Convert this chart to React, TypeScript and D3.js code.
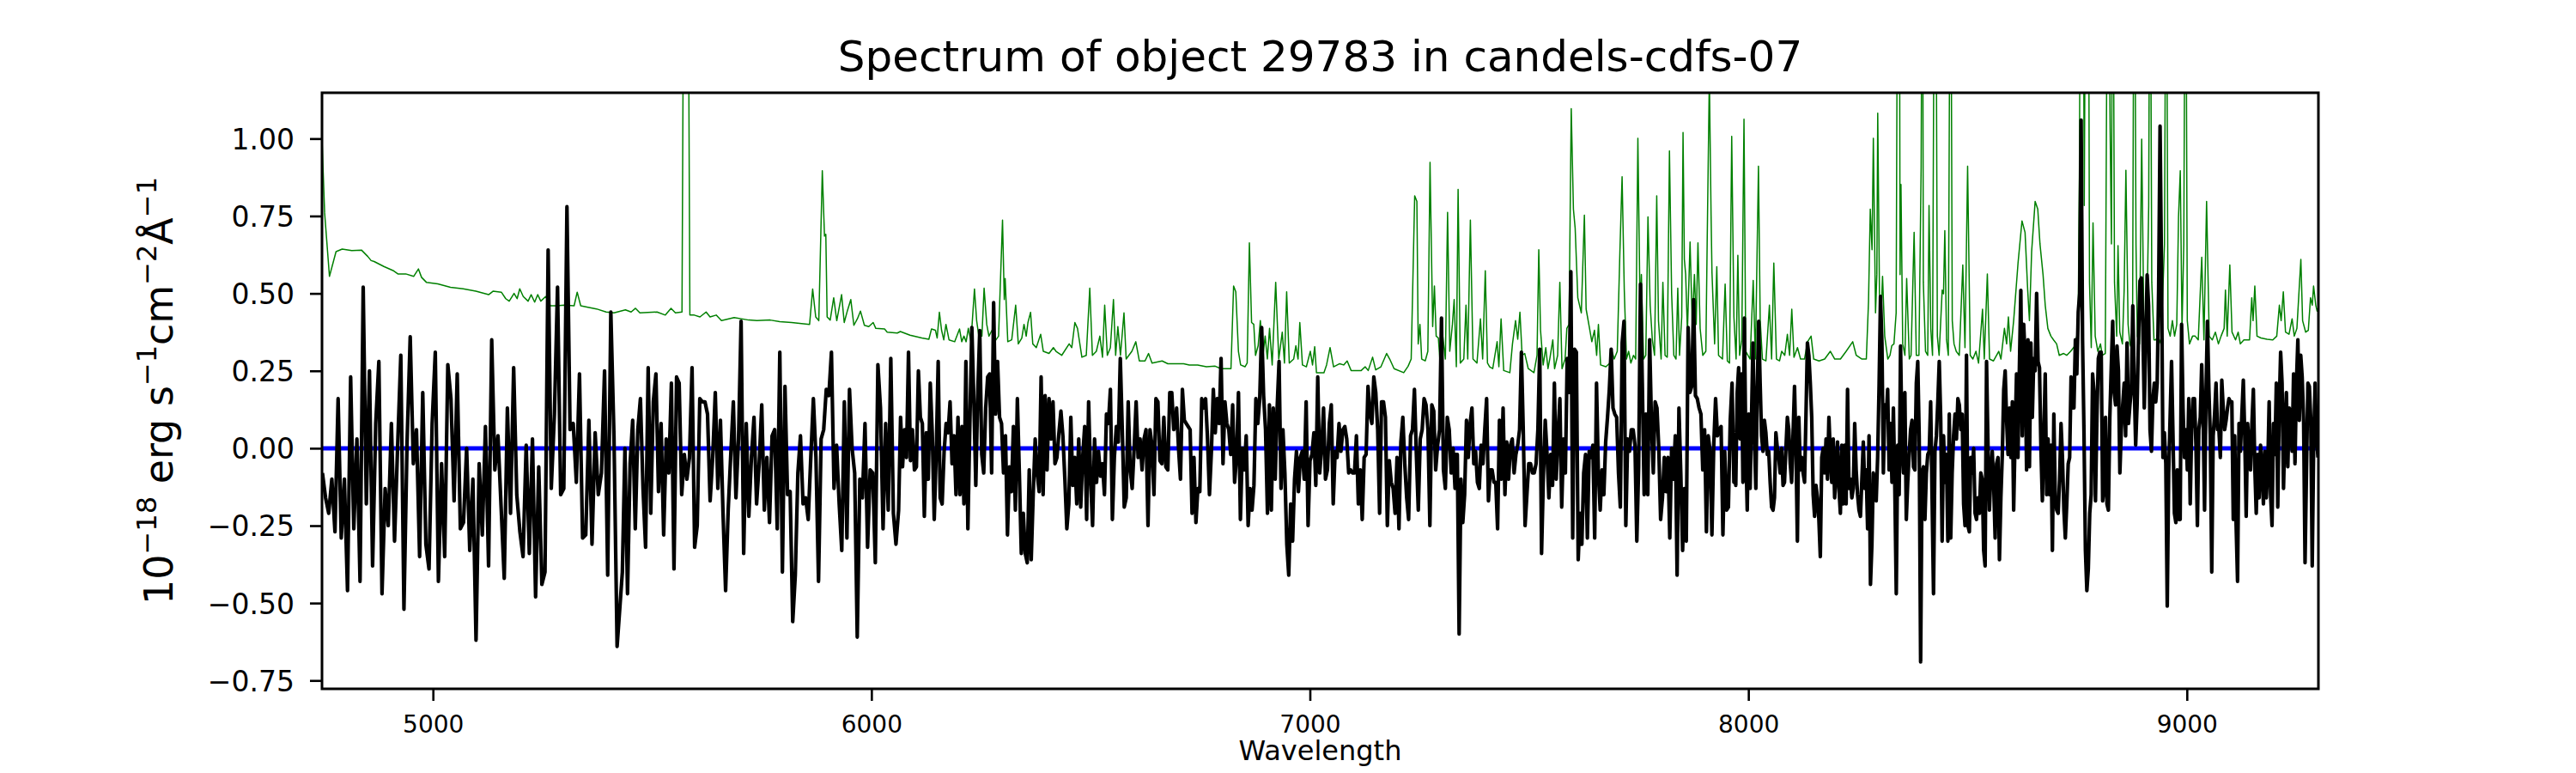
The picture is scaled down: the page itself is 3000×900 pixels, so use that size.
import React, { useEffect, useRef } from 'react';
import * as d3 from 'd3';

const title = 'Spectrum of object 29783 in candels-cdfs-07';
const xLabel = 'Wavelength';
const xTicks = [5000, 6000, 7000, 8000, 9000];
const yTicks = [-0.75, -0.5, -0.25, 0, 0.25, 0.5, 0.75, 1.0];
const xDomain = [4747, 9300];
const yDomain = [-0.777, 1.148];

// object flux, each piece evenly sampled between its edge wavelengths
const fluxEdges = [
  [4748, 5420], [5432, 6056], [6062, 6694], [6696, 7331],
  [7332, 7967], [7968, 8602], [8605, 9299],
];
const flux1 = [
  -0.08, -0.16, -0.21, -0.10, -0.27, 0.16, -0.29, -0.10, -0.46, 0.23,
  -0.26, 0.03, -0.43, 0.52, -0.18, 0.25, -0.38, 0.08, 0.28, -0.47,
  -0.13, -0.25, 0.08, -0.30, 0.01, 0.30, -0.52, 0.02, 0.36, -0.05,
  0.06, -0.35, 0.18, -0.31, -0.39, 0.08, 0.31, -0.43, -0.05, -0.35,
  0.27, 0.16, -0.17, 0.24, -0.26, -0.24, 0.00, -0.33, -0.10, -0.62,
  -0.05, -0.28, 0.07, -0.38, 0.35, -0.07, 0.04, -0.19, -0.42, 0.13,
  -0.21, 0.26, -0.15, -0.27, -0.35, 0.01, -0.34, 0.03, -0.48, -0.06,
  -0.44, -0.40, 0.64, -0.13, 0.11, 0.52, -0.15, -0.13, 0.78, 0.06,
  0.08, -0.11, 0.24, -0.29, -0.28, 0.09, -0.31, 0.05, -0.15, -0.08,
  0.25, -0.41, 0.44, 0.04, -0.64,
];
const flux2 = [
  -0.40, 0.00, -0.47, -0.05, 0.09, -0.26, 0.06, 0.16, -0.13, -0.32,
  0.26, -0.21, 0.15, 0.24, -0.14, 0.08, -0.28, 0.03, -0.08, 0.21,
  -0.39, 0.23, 0.21, -0.15, -0.02, -0.10, -0.03, 0.26, -0.32, -0.25,
  0.16, 0.15, 0.15, 0.11, -0.17, -0.03, 0.18, -0.13, 0.09, -0.21,
  -0.46, -0.20, -0.02, 0.15, -0.16, 0.03, 0.41, -0.34, 0.08, -0.22,
  -0.03, 0.10, -0.18, -0.05, 0.14, -0.20, -0.03, -0.24, 0.04, 0.06,
  -0.26, 0.31, -0.40, 0.20, -0.15, -0.14, -0.56, -0.41, -0.08, 0.04,
  -0.18, -0.16, -0.23, -0.03, 0.16, -0.03, -0.43, 0.03, 0.06, 0.19,
  0.17, 0.31, -0.13, 0.01, -0.18, -0.33, 0.15, -0.29, 0.19, 0.00,
  -0.08, -0.61, -0.10, -0.16, 0.08, -0.32, -0.07, -0.08, -0.37, 0.27,
  0.13, -0.26, 0.08, -0.20, 0.29, -0.21, -0.31,
];
const flux3 = [
  -0.20, 0.10, -0.06, 0.06, -0.03, 0.31, -0.04, 0.06, -0.07, -0.06,
  0.25, 0.10, 0.08, -0.22, 0.05, -0.10, 0.21, 0.05, -0.23, -0.02,
  0.28, -0.16, -0.18, -0.01, 0.08, 0.05, 0.15, -0.05, 0.04, -0.15,
  0.10, -0.15, 0.07, -0.18, 0.28, -0.26, 0.08, 0.39, 0.16, -0.12,
  0.18, 0.38, -0.02, -0.08, 0.13, 0.23, 0.24, -0.08, 0.47, 0.11,
  0.28, 0.10, 0.08, -0.08, 0.04, -0.28, -0.06, -0.14, 0.07, -0.20,
  0.16, -0.08, -0.34, -0.21, -0.34, -0.37, -0.07, -0.36, -0.15, 0.03,
  -0.08, -0.14, 0.23, -0.15, 0.17, -0.07, 0.16, 0.03, 0.15, -0.05,
  -0.03, 0.05, 0.12, 0.04, -0.10, -0.26, -0.18, 0.10, -0.12, -0.03,
  -0.18, 0.03, -0.19, -0.03, 0.07, -0.23, 0.15, -0.10, -0.25, 0.03,
  -0.11, -0.01, -0.09, -0.05, -0.15, 0.11, 0.08, 0.19, -0.23, -0.03,
  0.07, 0.02, 0.29, 0.06, -0.19, -0.16, 0.15, -0.07, -0.13, 0.00,
  0.15, -0.03, 0.03, -0.07, 0.03, 0.06, -0.25, 0.06, 0.01, -0.15,
  0.16, 0.15, -0.04, -0.05, 0.10, -0.06, -0.07, 0.18, 0.18, 0.06,
  0.08,
];
const flux4 = [
  0.13, 0.00, -0.10, 0.19, 0.09, 0.08, 0.07, 0.06, -0.21, -0.03,
  -0.24, -0.13, -0.14, 0.16, 0.13, 0.16, 0.03, -0.15, -0.01, 0.19,
  0.05, 0.16, 0.08, 0.29, -0.05, 0.15, 0.08, 0.06, -0.02, 0.14,
  -0.11, -0.03, 0.18, -0.23, 0.00, -0.07, 0.04, -0.25, -0.13, -0.20,
  -0.12, 0.16, 0.08, 0.16, 0.39, 0.17, 0.06, -0.21, 0.14, -0.20,
  0.13, -0.10, 0.13, 0.28, -0.13, 0.06, -0.08, -0.31, -0.41, -0.18,
  -0.30, -0.10, -0.01, -0.14, -0.03, -0.01, -0.10, 0.15, -0.25, -0.04,
  -0.02, 0.05, -0.12, 0.23, -0.08, 0.00, 0.13, -0.10, -0.07, 0.08,
  0.14, -0.18, -0.01, -0.03, 0.08, -0.01, 0.06, 0.07, 0.03, -0.08,
  -0.07, -0.08, -0.08, 0.04, -0.18, -0.07, -0.23, -0.03, -0.02, 0.20,
  0.11, 0.08, 0.23, 0.18, 0.06, -0.21, 0.15, 0.15, 0.10, -0.25,
  -0.04, -0.11, -0.13, -0.21, -0.03, -0.26, 0.02, 0.10, -0.05, -0.16,
  -0.23, 0.04, 0.06, 0.19, -0.02, -0.20, 0.03, 0.06, 0.16, 0.14,
  0.06, -0.25, 0.14, 0.12, -0.07, 0.01, 0.06, 0.42, -0.07, -0.13,
  0.10, 0.06, -0.08, 0.00, -0.13,
];
const flux5 = [
  -0.02, -0.02, -0.60, -0.10, -0.24, -0.15, 0.09, -0.03, 0.08, 0.13,
  -0.05, -0.01, -0.11, -0.13, 0.01, -0.05, 0.06, 0.16, -0.17, -0.07,
  -0.07, -0.11, -0.11, -0.26, 0.09, -0.10, 0.13, -0.15, 0.02, -0.10,
  0.01, 0.03, -0.08, -0.02, 0.01, 0.06, 0.31, 0.06, -0.25, -0.15,
  -0.05, -0.05, -0.08, -0.08, -0.05, 0.06, 0.32, -0.34, -0.09, 0.09,
  -0.02, -0.16, -0.02, -0.12, 0.21, -0.10, 0.04, 0.16, -0.19, 0.03,
  -0.08, 0.29, 0.18, 0.57, -0.29, 0.32, 0.31, -0.36, -0.21, -0.31,
  -0.08, -0.02, -0.29, -0.01, -0.03, 0.01, -0.29, 0.21, -0.08, -0.20,
  -0.07, -0.15, 0.02, 0.10, 0.19, 0.32, 0.13, 0.11, 0.10, -0.08,
  -0.19, 0.34, 0.41, -0.25, 0.03, -0.01, 0.06, 0.06, 0.01, -0.30,
  -0.06, 0.53, 0.21, -0.15, 0.11, -0.15, 0.35, 0.08, -0.08, 0.15,
  0.13, 0.00, -0.23, -0.16, -0.03, -0.14, -0.03, -0.29, 0.00, -0.10,
  0.04, -0.41, 0.13, -0.08, -0.33, -0.13, -0.30, 0.39, 0.18, 0.20,
  0.48, 0.17, 0.16, 0.13, 0.11, -0.07, 0.06, -0.27, 0.04, -0.01,
  -0.28, 0.01, 0.16, 0.04, 0.06, 0.07, -0.28, -0.01, -0.20, -0.19,
  0.09, 0.21, -0.11,
];
const flux6 = [
  0.03, -0.12, 0.18, 0.26, 0.03, 0.24, -0.11, 0.42, 0.00, -0.20,
  0.11, -0.13, 0.10, 0.34, 0.04, -0.13, 0.20, 0.41, 0.21, 0.04,
  -0.01, 0.09, 0.05, -0.02, -0.01, -0.11, -0.19, -0.20, -0.16, 0.05,
  0.00, -0.03, -0.08, 0.00, -0.12, -0.11, 0.00, 0.10, 0.06, -0.05,
  -0.11, 0.05, 0.20, 0.00, -0.30, 0.10, -0.07, -0.03, -0.08, -0.11,
  0.11, 0.34, 0.30, 0.21, 0.10, -0.15, -0.22, -0.12, -0.16, -0.23,
  -0.35, -0.03, 0.00, -0.08, 0.03, -0.10, 0.10, -0.02, -0.11, 0.03,
  -0.16, -0.08, 0.02, -0.13, -0.21, 0.01, -0.18, 0.01, -0.18, 0.19,
  -0.13, -0.10, -0.16, -0.13, 0.08, -0.07, -0.15, -0.20, -0.22, -0.10,
  0.02, -0.13, -0.07, -0.26, 0.04, -0.44, -0.31, -0.08, -0.11, -0.17,
  -0.03, 0.20, 0.49, 0.34, -0.08, 0.14, 0.10, 0.19, -0.07, 0.08,
  -0.11, 0.13, -0.13, -0.47, 0.01, -0.15, 0.33, 0.01, -0.08, 0.18,
  -0.23, -0.11, -0.02, 0.06, 0.09, -0.06, -0.07, 0.21, 0.28, 0.04,
  -0.69, -0.08, -0.06, -0.23, -0.08, -0.02, -0.01, 0.15, -0.16, -0.47,
  -0.01, 0.04, 0.15, 0.28, 0.10, -0.30, 0.04, -0.11, -0.02, -0.30,
  0.11, -0.29, -0.08, 0.04, 0.11, 0.03, 0.16, 0.14, 0.06, 0.11,
  -0.18, -0.25, 0.30, -0.25, -0.27, -0.03, -0.08, 0.00, -0.21, -0.23,
  -0.16, -0.21, -0.08, -0.10, -0.33, -0.38, 0.28, 0.01, -0.20, -0.08,
  -0.01, -0.12, -0.29, -0.05, -0.03, -0.36, -0.16, -0.02, 0.19, 0.25,
  0.09, -0.02, 0.13, -0.03, 0.15,
];
const flux7 = [
  -0.20, 0.04, 0.24, -0.03, 0.26, 0.51, 0.04, 0.40, 0.29, -0.07,
  0.35, -0.06, 0.34, 0.10, 0.29, 0.25, 0.50, 0.28, 0.26, 0.00,
  -0.17, 0.04, 0.24, -0.15, 0.03, -0.15, 0.01, -0.33, 0.11, -0.16,
  -0.20, -0.21, -0.10, 0.08, -0.03, -0.20, -0.29, -0.18, -0.05, -0.03,
  0.23, 0.13, 0.13, 0.35, 0.24, 0.44, 0.50, 1.06, 0.35, 0.05,
  -0.33, -0.46, -0.39, -0.21, -0.15, 0.24, 0.18, -0.17, 0.10, 0.29,
  0.31, 0.31, -0.17, -0.13, 0.10, -0.18, -0.20, 0.10, 0.26, 0.41,
  0.18, 0.14, 0.33, 0.25, -0.08, 0.06, 0.14, 0.21, 0.04, 0.34,
  0.08, 0.14, 0.19, 0.46, 0.21, 0.01, 0.14, 0.36, 0.54, 0.55,
  0.39, 0.13, 0.34, 0.56, 0.46, 0.06, -0.01, 0.16, 0.21, 0.15,
  0.21, 0.51, 1.04, 0.57, -0.03, 0.05, -0.05, -0.51, -0.08, 0.10,
  0.28, 0.04, -0.21, -0.24, -0.07, -0.23, -0.23, 0.40, 0.13, -0.03,
  0.06, -0.07, 0.16, -0.18, 0.06, 0.16, 0.16, 0.01, -0.25, 0.06,
  0.10, 0.27, 0.10, -0.20, 0.18, 0.41, 0.19, 0.04, -0.40, 0.04,
  0.11, 0.21, 0.06, 0.06, -0.03, 0.22, 0.13, 0.06, 0.09, 0.13,
  0.16, 0.15, 0.15, -0.23, 0.04, -0.25, -0.43, 0.08, -0.01, 0.11,
  0.22, 0.04, -0.22, 0.08, 0.01, -0.07, 0.08, 0.19, -0.06, -0.21,
  -0.02, -0.16, 0.01, -0.06, -0.18, -0.01, -0.16, -0.07, 0.15, -0.15,
  -0.25, 0.08, -0.02, 0.21, -0.19, 0.13, 0.31, 0.21, -0.13, 0.06,
  0.18, -0.06, 0.13, 0.09, -0.01, 0.24, -0.05, 0.21, 0.35, 0.09,
  0.30, 0.23, 0.09, -0.37, -0.07, 0.21, 0.20, 0.09, -0.38, 0.01,
  0.21, 0.04, -0.03,
];
const fluxPieces = [flux1, flux2, flux3, flux4, flux5, flux6, flux7];

// noise spectrum: [wavelength, value]; spikes above the frame are clipped
const sigma1 = [
  [4747, 1.0], [4753, 0.76], [4764, 0.555], [4770, 0.587], [4779, 0.635], [4793, 0.643],
  [4815, 0.638], [4837, 0.64], [4851, 0.62], [4859, 0.606], [4866, 0.603], [4888, 0.587],
  [4909, 0.574], [4920, 0.563], [4938, 0.563], [4956, 0.555], [4967, 0.579], [4974, 0.552],
  [4985, 0.536], [5011, 0.531], [5040, 0.52], [5069, 0.515], [5098, 0.507], [5127, 0.496],
  [5137, 0.507], [5156, 0.504], [5166, 0.483], [5174, 0.475], [5185, 0.5], [5192, 0.483],
  [5198, 0.515], [5206, 0.49], [5217, 0.475], [5224, 0.496], [5232, 0.472], [5239, 0.496],
  [5246, 0.475], [5257, 0.49], [5268, 0.46], [5282, 0.46], [5300, 0.462], [5322, 0.46],
  [5329, 0.504], [5337, 0.46], [5351, 0.456], [5373, 0.45], [5395, 0.44], [5413, 0.437],
];
const sigma2 = [
  [5439, 0.447], [5452, 0.44], [5462, 0.452], [5472, 0.437], [5511, 0.44], [5530, 0.43],
  [5543, 0.452], [5553, 0.437], [5568, 0.44], [5573, 2.0], [5581, 2.0], [5586, 0.43],
  [5596, 0.43], [5609, 0.424], [5623, 0.44], [5632, 0.424], [5646, 0.43], [5658, 0.412],
  [5687, 0.422], [5720, 0.414], [5739, 0.412], [5769, 0.414], [5791, 0.409], [5818, 0.406],
  [5859, 0.4], [5866, 0.514], [5873, 0.424], [5880, 0.412], [5888, 0.896], [5893, 0.685],
  [5896, 0.691], [5899, 0.424], [5906, 0.414], [5914, 0.486], [5921, 0.412], [5932, 0.496],
  [5938, 0.406], [5945, 0.443], [5953, 0.48], [5960, 0.397], [5968, 0.418], [5975, 0.443],
  [5984, 0.397], [5994, 0.393], [6004, 0.406], [6010, 0.387], [6030, 0.385], [6036, 0.375],
  [6059, 0.372],
];
const sigma3 = [
  [6066, 0.377], [6088, 0.365], [6115, 0.356], [6131, 0.352], [6137, 0.385], [6146, 0.381],
  [6150, 0.356], [6155, 0.439], [6160, 0.381], [6165, 0.35], [6170, 0.4], [6177, 0.35],
  [6190, 0.344], [6201, 0.385], [6206, 0.344], [6211, 0.362], [6216, 0.344], [6221, 0.387],
  [6227, 0.344], [6235, 0.514], [6240, 0.412], [6245, 0.362], [6252, 0.362], [6257, 0.517],
  [6263, 0.4], [6268, 0.362], [6275, 0.381], [6281, 0.344], [6290, 0.362], [6299, 0.737],
  [6303, 0.48], [6305, 0.548], [6311, 0.344], [6320, 0.35], [6329, 0.462], [6335, 0.337],
  [6343, 0.356], [6348, 0.4], [6353, 0.362], [6357, 0.406], [6363, 0.439], [6368, 0.337],
  [6376, 0.325], [6386, 0.368], [6392, 0.313], [6405, 0.306], [6415, 0.325], [6421, 0.313],
  [6434, 0.3], [6451, 0.337], [6457, 0.325], [6464, 0.406], [6470, 0.387], [6480, 0.294],
  [6490, 0.3], [6498, 0.517], [6504, 0.3], [6513, 0.313], [6521, 0.362], [6527, 0.294],
  [6532, 0.462], [6538, 0.3], [6545, 0.325], [6552, 0.48], [6557, 0.3], [6562, 0.393],
  [6568, 0.3], [6576, 0.437], [6581, 0.288], [6594, 0.313], [6603, 0.344], [6611, 0.282],
  [6624, 0.282], [6632, 0.306], [6640, 0.275], [6663, 0.282], [6676, 0.273], [6696, 0.273],
];
const sigma4 = [
  [6712, 0.273], [6725, 0.269], [6744, 0.269], [6764, 0.263], [6784, 0.265], [6797, 0.257],
  [6820, 0.257], [6826, 0.524], [6831, 0.505], [6837, 0.313], [6842, 0.269], [6852, 0.263],
  [6857, 0.275], [6862, 0.663], [6867, 0.406], [6872, 0.4], [6876, 0.3], [6882, 0.331],
  [6887, 0.412], [6893, 0.3], [6898, 0.362], [6903, 0.288], [6908, 0.387], [6914, 0.269],
  [6922, 0.536], [6929, 0.288], [6937, 0.375], [6942, 0.275], [6947, 0.505], [6953, 0.275],
  [6963, 0.288], [6968, 0.331], [6973, 0.288], [6977, 0.406], [6983, 0.269], [6992, 0.263],
  [7001, 0.313], [7006, 0.269], [7011, 0.328], [7015, 0.244], [7032, 0.244], [7038, 0.269],
  [7046, 0.325], [7054, 0.263], [7068, 0.273], [7077, 0.269], [7085, 0.282], [7094, 0.251],
  [7117, 0.251], [7126, 0.263], [7133, 0.251], [7143, 0.294], [7150, 0.253], [7162, 0.263],
  [7175, 0.306], [7182, 0.288], [7192, 0.257], [7214, 0.244], [7224, 0.265], [7231, 0.288],
  [7239, 0.815], [7244, 0.797], [7247, 0.337], [7251, 0.4], [7255, 0.288], [7263, 0.282],
  [7269, 0.313], [7274, 0.923], [7280, 0.393], [7284, 0.524], [7288, 0.362], [7293, 0.356],
  [7297, 0.275], [7303, 0.362], [7309, 0.288], [7314, 0.762], [7319, 0.313], [7325, 0.4],
  [7329, 0.48], [7334, 0.263],
];
const sigma5 = [
  [7338, 0.836], [7343, 0.275], [7351, 0.288], [7356, 0.462], [7360, 0.288], [7366, 0.737],
  [7372, 0.288], [7381, 0.275], [7389, 0.418], [7394, 0.288], [7400, 0.573], [7405, 0.275],
  [7410, 0.263], [7417, 0.257], [7427, 0.344], [7431, 0.263], [7436, 0.418], [7442, 0.251],
  [7456, 0.244], [7462, 0.337], [7469, 0.412], [7474, 0.352], [7479, 0.439], [7484, 0.3],
  [7490, 0.306], [7498, 0.257], [7511, 0.244], [7518, 0.3], [7522, 0.641], [7526, 0.381],
  [7532, 0.269], [7538, 0.325], [7543, 0.257], [7547, 0.288], [7554, 0.35], [7558, 0.257],
  [7565, 0.3], [7570, 0.536], [7575, 0.257], [7582, 0.288], [7586, 0.387], [7591, 0.4],
  [7596, 1.097], [7601, 0.772], [7605, 0.71], [7611, 0.486], [7619, 0.437], [7626, 0.753],
  [7630, 0.449], [7637, 0.393], [7643, 0.344], [7649, 0.381], [7654, 0.3], [7658, 0.4],
  [7663, 0.269], [7675, 0.263], [7684, 0.275], [7689, 0.313], [7694, 0.288], [7701, 0.313],
  [7707, 0.635], [7712, 0.877], [7717, 0.511], [7722, 0.288], [7727, 0.313], [7732, 0.275],
  [7738, 0.3], [7743, 0.288], [7748, 1.001], [7753, 0.449], [7756, 0.561], [7761, 0.288],
  [7766, 0.3], [7771, 0.747], [7776, 0.462], [7781, 0.35], [7786, 0.3], [7791, 0.815],
  [7795, 0.412], [7801, 0.288], [7805, 0.536], [7810, 0.3], [7815, 0.294], [7820, 0.96],
  [7825, 0.499], [7830, 0.3], [7835, 0.288], [7839, 0.517], [7843, 0.3], [7848, 0.424],
  [7851, 1.02], [7854, 0.61], [7857, 0.561], [7861, 0.375], [7867, 0.666], [7872, 0.4],
  [7877, 0.561], [7881, 0.4], [7885, 0.663], [7890, 0.387], [7896, 0.3], [7903, 0.313],
  [7906, 0.66], [7911, 1.2], [7915, 0.747], [7917, 0.567], [7923, 0.337], [7928, 0.586],
  [7932, 0.3], [7941, 0.288], [7947, 0.53], [7952, 0.282], [7957, 0.275], [7962, 1.007],
  [7967, 0.424],
];
const sigma6 = [
  [7972, 0.288], [7976, 0.623], [7980, 0.3], [7985, 0.35], [7990, 1.063], [7994, 0.313],
  [7999, 0.3], [8004, 0.288], [8011, 0.542], [8016, 0.288], [8023, 0.911], [8027, 0.412],
  [8032, 0.288], [8040, 0.282], [8048, 0.462], [8053, 0.288], [8058, 0.598], [8064, 0.288],
  [8071, 0.282], [8076, 0.313], [8083, 0.3], [8089, 0.368], [8094, 0.3], [8099, 0.449],
  [8104, 0.294], [8112, 0.325], [8119, 0.288], [8128, 0.288], [8135, 0.344], [8143, 0.362],
  [8149, 0.288], [8161, 0.282], [8174, 0.288], [8187, 0.313], [8197, 0.288], [8210, 0.288],
  [8223, 0.313], [8238, 0.344], [8246, 0.3], [8259, 0.288], [8269, 0.288], [8274, 0.474],
  [8278, 0.772], [8282, 0.641], [8285, 1.001], [8290, 0.437], [8293, 0.561], [8295, 1.082],
  [8299, 0.499], [8303, 0.443], [8306, 0.555], [8311, 0.362], [8318, 0.288], [8323, 0.3],
  [8327, 0.331], [8332, 0.337], [8337, 0.437], [8341, 2.0], [8344, 2.0], [8346, 0.561],
  [8348, 0.852], [8352, 0.337], [8357, 0.3], [8361, 0.548], [8367, 0.288], [8371, 0.3],
  [8378, 0.697], [8383, 0.3], [8389, 0.3], [8394, 0.908], [8397, 2.0], [8399, 0.536],
  [8404, 0.313], [8409, 0.3], [8412, 0.784], [8416, 0.387], [8420, 0.3], [8425, 2.0],
  [8427, 2.0], [8431, 0.362], [8435, 0.3], [8442, 0.511], [8445, 0.499], [8448, 0.703],
  [8452, 0.35], [8456, 0.3], [8461, 2.0], [8465, 0.412], [8469, 0.337], [8474, 0.313],
  [8481, 0.3], [8489, 0.592], [8494, 0.325], [8500, 0.911], [8506, 0.3], [8512, 0.288],
  [8519, 0.313], [8525, 0.275], [8534, 0.449], [8538, 0.288], [8545, 0.563], [8550, 0.288],
  [8559, 0.282], [8571, 0.313], [8576, 0.288], [8584, 0.387], [8589, 0.337], [8593, 0.424],
  [8598, 0.313],
];
const sigma7 = [
  [8605, 0.412], [8615, 0.598], [8624, 0.734], [8631, 0.697], [8637, 0.511], [8641, 0.412],
  [8646, 0.635], [8654, 0.797], [8660, 0.772], [8665, 0.66], [8672, 0.561], [8677, 0.462],
  [8683, 0.387], [8690, 0.362], [8696, 0.35], [8703, 0.337], [8709, 0.3], [8719, 0.306],
  [8726, 0.3], [8735, 0.313], [8745, 0.331], [8752, 0.387], [8755, 0.908], [8758, 2.0],
  [8763, 2.0], [8766, 0.784], [8770, 2.0], [8775, 2.0], [8778, 0.536], [8782, 0.325],
  [8786, 0.728], [8791, 0.362], [8797, 0.313], [8803, 0.337], [8807, 0.3], [8814, 0.306],
  [8820, 2.0], [8825, 1.032], [8828, 0.66], [8831, 2.0], [8835, 0.536], [8840, 0.362],
  [8843, 0.654], [8847, 0.375], [8853, 0.337], [8857, 0.511], [8861, 0.898], [8866, 0.4],
  [8870, 0.337], [8876, 0.313], [8880, 2.0], [8884, 0.66], [8887, 0.362], [8892, 0.337],
  [8897, 0.998], [8902, 0.387], [8908, 0.344], [8913, 0.784], [8916, 2.0], [8920, 0.536],
  [8925, 0.35], [8929, 0.35], [8934, 0.362], [8941, 0.337], [8949, 0.66], [8953, 2.0],
  [8957, 0.387], [8962, 0.362], [8967, 0.412], [8972, 0.362], [8977, 0.4], [8981, 0.747],
  [8985, 0.896], [8989, 0.387], [8993, 0.66], [8997, 2.0], [9001, 0.412], [9006, 0.337],
  [9013, 0.362], [9019, 0.362], [9026, 0.35], [9034, 0.617], [9039, 0.35], [9045, 0.797],
  [9051, 0.362], [9058, 0.35], [9065, 0.375], [9072, 0.337], [9078, 0.362], [9085, 0.387],
  [9088, 0.511], [9092, 0.362], [9098, 0.592], [9103, 0.375], [9111, 0.35], [9117, 0.375],
  [9122, 0.337], [9130, 0.35], [9143, 0.35], [9148, 0.486], [9151, 0.412], [9155, 0.524],
  [9160, 0.362], [9169, 0.356], [9183, 0.352], [9196, 0.35], [9205, 0.362], [9211, 0.462],
  [9215, 0.412], [9220, 0.505], [9225, 0.375], [9233, 0.368], [9240, 0.418], [9245, 0.362],
  [9251, 0.387], [9256, 0.511], [9260, 0.61], [9264, 0.412], [9271, 0.375], [9277, 0.381],
  [9282, 0.486], [9286, 0.462], [9289, 0.524], [9294, 0.462], [9297, 0.443], [9300, 0.455],
];
const sigmaPieces = [sigma1, sigma2, sigma3, sigma4, sigma5, sigma6, sigma7];

// zero level
const zeroLine = [[4747, 0], [9300, 0]];

export default function App() {
  const svgRef = useRef<SVGSVGElement>(null);

  useEffect(() => {
    if (!svgRef.current) return;
    d3.select(svgRef.current).selectAll('*').remove();

    const W = 3000;
    const H = 900;
    const margin = { top: 108, right: 300, bottom: 98, left: 375 };
    const width = W - margin.left - margin.right;
    const height = H - margin.top - margin.bottom;
    const font = "'DejaVu Sans', sans-serif";

    const svg = d3.select(svgRef.current).attr('width', W).attr('height', H);
    svg.append('rect').attr('width', W).attr('height', H).attr('fill', 'white');

    const g = svg.append('g').attr('transform', `translate(${margin.left},${margin.top})`);

    const x = d3.scaleLinear().domain(xDomain).range([0, width]);
    const y = d3.scaleLinear().domain(yDomain).range([height, 0]);

    g.append('clipPath')
      .attr('id', 'plot-clip')
      .append('rect')
      .attr('width', width)
      .attr('height', height);

    const line = d3
      .line<number[]>()
      .x((d) => x(d[0]))
      .y((d) => y(d[1]));

    const plot = g.append('g').attr('clip-path', 'url(#plot-clip)');

    // noise (green)
    const sigma = sigmaPieces.flat();
    plot
      .append('path')
      .datum(sigma)
      .attr('d', line)
      .attr('fill', 'none')
      .attr('stroke', '#008000')
      .attr('stroke-width', 1.5)
      .attr('stroke-linejoin', 'round');

    // zero line (blue)
    plot
      .append('path')
      .datum(zeroLine)
      .attr('d', line)
      .attr('fill', 'none')
      .attr('stroke', '#0000ff')
      .attr('stroke-width', 5);

    // flux (black)
    const flux: number[][] = [];
    fluxPieces.forEach((vals, i) => {
      const w = d3.scaleLinear().domain([0, vals.length - 1]).range(fluxEdges[i]);
      vals.forEach((v, j) => flux.push([w(j), v]));
    });
    plot
      .append('path')
      .datum(flux)
      .attr('d', line)
      .attr('fill', 'none')
      .attr('stroke', '#000000')
      .attr('stroke-width', 4.2)
      .attr('stroke-linejoin', 'round');

    // frame
    g.append('rect')
      .attr('width', width)
      .attr('height', height)
      .attr('fill', 'none')
      .attr('stroke', '#000')
      .attr('stroke-width', 3);

    // x axis
    const xAxis = g
      .append('g')
      .attr('transform', `translate(0,${height})`)
      .call(d3.axisBottom(x).tickValues(xTicks).tickSize(14).tickFormat(d3.format('d')));
    xAxis.select('.domain').remove();
    xAxis.selectAll('line').attr('stroke', '#000').attr('stroke-width', 2.6);
    xAxis
      .selectAll('text')
      .attr('y', 50.5)
      .attr('dy', null)
      .attr('fill', '#000')
      .style('font-family', font)
      .style('font-size', '28px');

    // y axis
    const yAxis = g
      .append('g')
      .call(d3.axisLeft(y).tickValues(yTicks).tickSize(14).tickFormat(d3.format('.2f')));
    yAxis.select('.domain').remove();
    yAxis.selectAll('line').attr('stroke', '#000').attr('stroke-width', 2.6);
    yAxis
      .selectAll('text')
      .attr('x', -32)
      .attr('dy', '0.36em')
      .attr('fill', '#000')
      .style('font-family', font)
      .style('font-size', '33px');

    // title
    svg
      .append('text')
      .attr('x', margin.left + width / 2)
      .attr('y', 83)
      .attr('text-anchor', 'middle')
      .style('font-family', font)
      .style('font-size', '50px')
      .text(title);

    // x label
    svg
      .append('text')
      .attr('x', margin.left + width / 2)
      .attr('y', 885)
      .attr('text-anchor', 'middle')
      .style('font-family', font)
      .style('font-size', '32px')
      .text(xLabel);

    // y label with superscripts
    const yl = svg
      .append('text')
      .attr('transform', `translate(201,${margin.top + height / 2}) rotate(-90)`)
      .attr('text-anchor', 'middle')
      .style('font-family', font)
      .style('font-size', '46px')
      .style('white-space', 'pre');
    const parts: [string, boolean][] = [
      ['10', false], ['\u221218', true], [' erg s', false], ['\u22121', true],
      ['cm', false], ['\u22122', true], ['\u00C5', false], ['\u22121', true],
    ];
    let raised = false;
    parts.forEach(([txt, sup]) => {
      const t = yl.append('tspan').text(txt);
      if (sup && !raised) t.attr('dy', -19).style('font-size', '32px');
      else if (sup) t.style('font-size', '32px');
      if (!sup && raised) t.attr('dy', 19);
      raised = sup;
    });
  }, []);

  return (
    <svg
      ref={svgRef}
      style={{ position: 'absolute', left: 0, top: 0, display: 'block' }}
    />
  );
}
